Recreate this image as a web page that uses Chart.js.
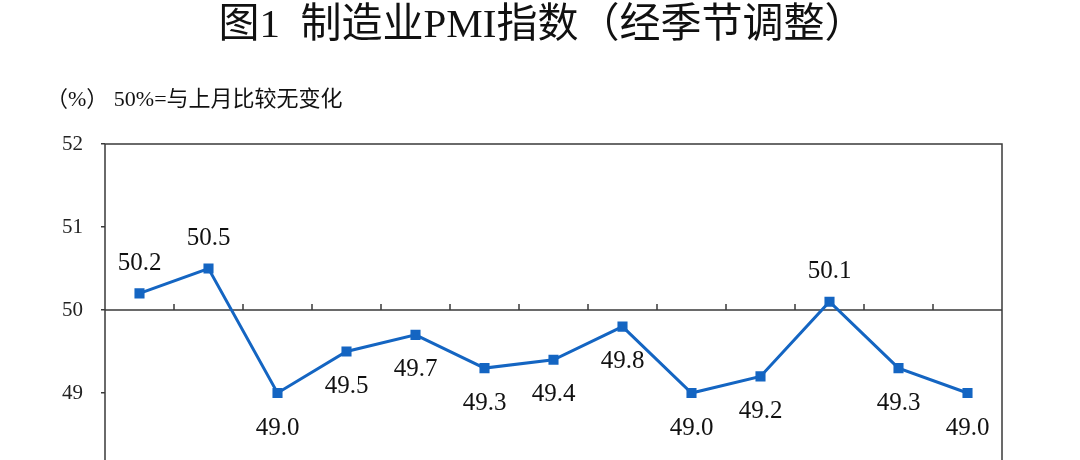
<!DOCTYPE html>
<html>
<head>
<meta charset="utf-8">
<script src="https://cdn.jsdelivr.net/npm/chart.js@4.4.1/dist/chart.umd.min.js"></script>
<style>
  html, body { margin: 0; padding: 0; background: #fff; overflow: hidden; }
  #wrap { position: relative; width: 1080px; height: 580px; }
</style>
</head>
<body>
<div id="wrap"><canvas id="pmiChart"></canvas></div>
<script>
// 13 months of manufacturing PMI (seasonally adjusted)
const months = ["1", "2", "3", "4", "5", "6", "7", "8", "9", "10", "11", "12", "13"];
const pmiValues = [50.2, 50.5, 49.0, 49.5, 49.7, 49.3, 49.4, 49.8, 49.0, 49.2, 50.1, 49.3, 49.0];
const yTicks = [48, 49, 50, 51, 52];

const titleText = "图1  制造业PMI指数（经季节调整）";
const noteText = "（%） 50%=与上月比较无变化";

const lineBlue = "#1465c2";
const frameColor = "#3a3a3a";

// indices whose value label sits above the point (rest go below)
const labelsAbove = [0, 1, 10];

const decorPlugin = {
  id: "decor",
  beforeDatasetsDraw(chart) {
    const ctx = chart.ctx;
    const area = chart.chartArea;
    const x = chart.scales.x;
    const y = chart.scales.y;
    ctx.save();
    ctx.strokeStyle = frameColor;
    ctx.lineWidth = 1.5;
    ctx.strokeRect(area.left, area.top, area.right - area.left, area.bottom - area.top);

    // 50 reference line with small ticks between months
    const y50 = y.getPixelForValue(50);
    ctx.beginPath();
    ctx.moveTo(area.left, y50);
    ctx.lineTo(area.right, y50);
    for (let i = 0; i < months.length - 1; i++) {
      const bx = (x.getPixelForValue(i) + x.getPixelForValue(i + 1)) / 2;
      ctx.moveTo(bx, y50);
      ctx.lineTo(bx, y50 - 6);
    }
    ctx.stroke();
    ctx.restore();
  },
  afterDraw(chart) {
    const ctx = chart.ctx;
    const x = chart.scales.x;
    const y = chart.scales.y;
    ctx.save();
    ctx.fillStyle = "#111";
    ctx.textBaseline = "middle";

    ctx.textAlign = "center";
    ctx.font = '41px "Liberation Serif", "Noto Sans CJK SC"';
    ctx.fillText(titleText, 542, 26);

    ctx.textAlign = "left";
    ctx.font = '22px "Liberation Serif", "Noto Sans CJK SC"';
    ctx.fillText(noteText, 46, 100);

    // value labels
    ctx.textAlign = "center";
    ctx.font = '25px "Liberation Serif"';
    pmiValues.forEach((v, i) => {
      const px = x.getPixelForValue(i);
      let py = y.getPixelForValue(v);
      py += labelsAbove.includes(i) ? -30 : 35;
      ctx.fillText(v.toFixed(1), px, py);
    });
    ctx.restore();
  }
};

const chart = new Chart("pmiChart", {
  type: "line",
  data: {
    labels: months,
    datasets: [
      {
        label: "制造业PMI",
        data: pmiValues,
        borderColor: lineBlue,
        backgroundColor: lineBlue,
        borderWidth: 3,
        lineTension: 0,
        pointStyle: "rect",
        pointRadius: 5,
        pointHoverRadius: 5,
        fill: false,
      },
    ],
  },
  options: {
    responsive: true,
    maintainAspectRatio: false,
    animation: false,
    layout: {
      padding: { left: 50, right: 78, top: 144, bottom: 104 },
    },
    plugins: {
      legend: { display: false },
      title: { display: false },
      tooltip: { enabled: false },
    },
    scales: {
      x: {
        display: false,
        offset: true,
      },
      y: {
        min: yTicks[0],
        max: yTicks[yTicks.length - 1],
        afterFit(scale) {
          scale.width = 55;
        },
        afterBuildTicks(scale) {
          scale.ticks = yTicks.map(v => ({ value: v }));
        },
        border: { display: false },
        grid: {
          drawOnChartArea: false,
          drawTicks: true,
          tickLength: 4,
          tickColor: frameColor,
          lineWidth: 1.5,
        },
        ticks: {
          padding: 18,
          color: "#222",
          font: { family: '"Liberation Serif"', size: 21 },
        },
      },
    },
  },
  plugins: [decorPlugin],
});
</script>
</body>
</html>
